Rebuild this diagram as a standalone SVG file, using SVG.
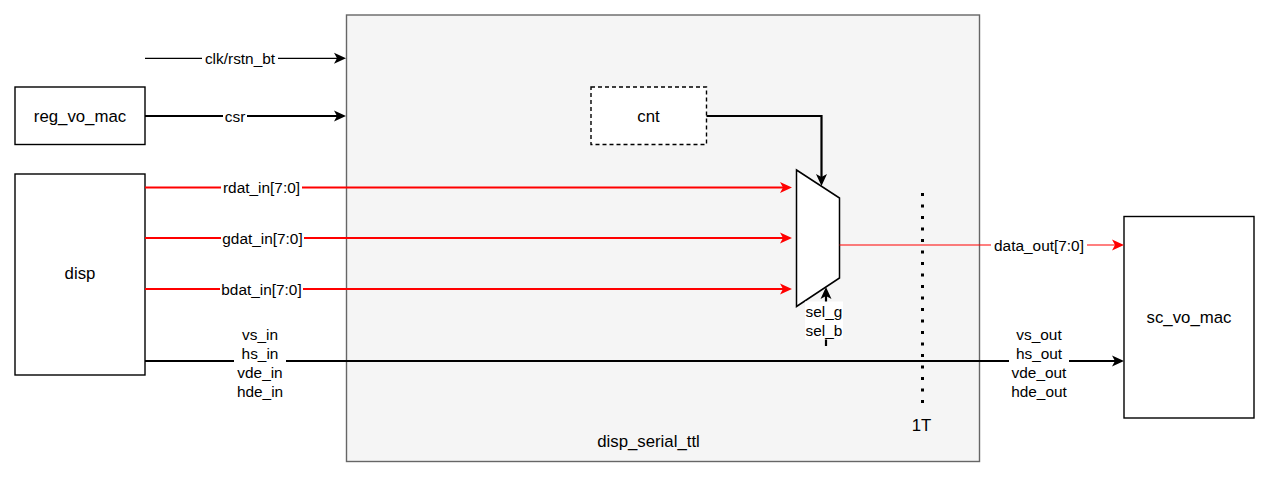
<svg xmlns="http://www.w3.org/2000/svg" width="1269" height="477" viewBox="0 0 1269 477">
<defs>
<marker id="ab" markerUnits="userSpaceOnUse" markerWidth="14" markerHeight="12" refX="3" refY="5.5" orient="auto" overflow="visible">
<path d="M0,0 L12,5.5 L0,11 L3,5.5 Z" fill="#000"/>
</marker>
<marker id="ar" markerUnits="userSpaceOnUse" markerWidth="14" markerHeight="12" refX="3" refY="5.5" orient="auto" overflow="visible">
<path d="M0,0 L12,5.5 L0,11 L3,5.5 Z" fill="#ff0000"/>
</marker>
</defs>
<style>
text{font-family:"Liberation Sans",Arial,sans-serif;fill:#000;text-anchor:middle;dominant-baseline:central}
.box{fill:#fff;stroke:#000;stroke-width:1.4}
.bl{font-size:16.8px}
.el{font-size:15.4px}
.lbg{fill:#fff}
.k1{stroke:#000;stroke-width:1.2;fill:none}
.k2{stroke:#000;stroke-width:2.2;fill:none}
.r1{stroke:#ff0000;stroke-width:1.2;fill:none}
.r2{stroke:#ff0000;stroke-width:2.2;fill:none}
</style>
<rect width="1269" height="477" fill="#fff"/>
<g id="disp_serial_ttl">
<rect x="346.5" y="15" width="633" height="446.5" fill="#f5f5f5" stroke="#666" stroke-width="1.4"/>
<text class="bl" x="648.5" y="441">disp_serial_ttl</text>
</g>
<g id="reg_vo_mac">
<rect class="box" x="15" y="87" width="130" height="57.5"/>
<text class="bl" x="80" y="116">reg_vo_mac</text>
</g>
<g id="disp">
<rect class="box" x="15" y="174" width="130" height="201"/>
<text class="bl" x="80" y="273">disp</text>
</g>
<g id="sc_vo_mac">
<rect class="box" x="1124" y="216.5" width="130" height="201.5"/>
<text class="bl" x="1189" y="317">sc_vo_mac</text>
</g>
<g id="cnt">
<rect x="591" y="87" width="115.5" height="57.5" fill="#fff" stroke="#000" stroke-width="1.4" stroke-dasharray="4 3"/>
<text class="bl" x="648.5" y="116">cnt</text>
</g>
<g id="mux">
<path d="M796.5,170 L839.5,198 L839.5,278 L796.5,306.5 Z" fill="#fff" stroke="#000" stroke-width="1.5"/>
</g>
<g id="timing_1T">
<line x1="922.5" y1="193" x2="922.5" y2="404" stroke="#000" stroke-width="3" stroke-dasharray="3 8.5"/>
<text class="bl" x="921.5" y="425">1T</text>
</g>
<g id="connectors">
<line class="k1" x1="145" y1="58.3" x2="337" y2="58.3" marker-end="url(#ab)"/>
<rect class="lbg" x="202" y="49" width="76" height="18"/>
<text class="el" x="240" y="58.3">clk/rstn_bt</text>

<line class="k2" x1="145" y1="116" x2="337" y2="116" marker-end="url(#ab)"/>
<rect class="lbg" x="223" y="107" width="24" height="18"/>
<text class="el" x="235" y="116">csr</text>

<line class="r2" x1="145" y1="187.5" x2="783" y2="187.5" marker-end="url(#ar)"/>
<rect class="lbg" x="221" y="178.5" width="81" height="18"/>
<text class="el" x="261.5" y="187.5">rdat_in[7:0]</text>

<line class="r2" x1="145" y1="238" x2="783" y2="238" marker-end="url(#ar)"/>
<rect class="lbg" x="221" y="229" width="83" height="18"/>
<text class="el" x="262.5" y="238">gdat_in[7:0]</text>

<line class="r2" x1="145" y1="289" x2="783" y2="289" marker-end="url(#ar)"/>
<rect class="lbg" x="220" y="280" width="83" height="18"/>
<text class="el" x="261.5" y="289">bdat_in[7:0]</text>

<polyline class="k2" points="706.5,116 821.5,116 821.5,177" marker-end="url(#ab)"/>

<line class="k2" x1="826" y1="346" x2="826" y2="296" marker-end="url(#ab)"/>
<rect class="lbg" x="805" y="301.5" width="38" height="38"/>
<text class="el" x="824" y="311.5">sel_g</text>
<text class="el" x="824" y="330.5">sel_b</text>

<line class="r1" x1="839.5" y1="245" x2="1115" y2="245" marker-end="url(#ar)"/>
<rect class="lbg" x="991" y="236" width="96" height="18"/>
<text class="el" x="1039" y="245">data_out[7:0]</text>

<line class="k2" x1="145" y1="361" x2="1115" y2="361" marker-end="url(#ab)"/>
<rect class="lbg" x="234" y="324" width="52" height="77"/>
<text class="el" x="260" y="334">vs_in</text>
<text class="el" x="260" y="353">hs_in</text>
<text class="el" x="260" y="372">vde_in</text>
<text class="el" x="260" y="391">hde_in</text>
<rect class="lbg" x="1009" y="324" width="60" height="77"/>
<text class="el" x="1039" y="334">vs_out</text>
<text class="el" x="1039" y="353">hs_out</text>
<text class="el" x="1039" y="372">vde_out</text>
<text class="el" x="1039" y="391">hde_out</text>
</g>
</svg>
